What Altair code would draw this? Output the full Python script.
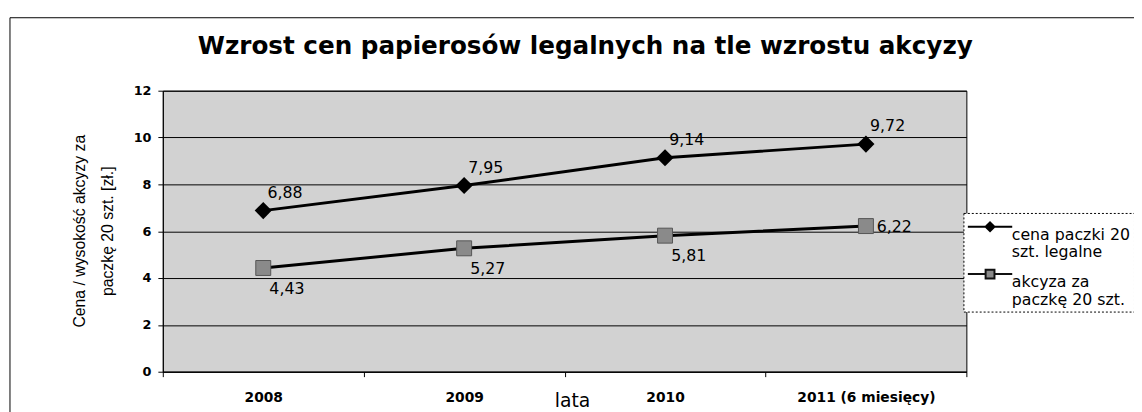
import altair as alt
import pandas as pd

years = ["2008", "2009", "2010", "2011 (6 miesięcy)"]
cena = [6.88, 7.95, 9.14, 9.72]
akcyza = [4.43, 5.27, 5.81, 6.22]
series_names = ["cena paczki 20\nszt. legalne", "akcyza za\npaczkę 20 szt."]

rows = []
for y, v in zip(years, cena):
    rows.append({"year": y, "series": series_names[0], "value": v})
for y, v in zip(years, akcyza):
    rows.append({"year": y, "series": series_names[1], "value": v})
df = pd.DataFrame(rows)

FONT = "DejaVu Sans"
NARROW = "'Liberation Sans Narrow', 'Liberation Sans'"

x_enc = alt.X(
    "year:N", sort=years, bandPosition=0.5,
    scale=alt.Scale(type="band", paddingInner=0, paddingOuter=0),
    axis=alt.Axis(title="lata", labelAngle=0, tickBand="extent", labelFontSize=14,
                  labelFontWeight="bold",
                  labelFont=FONT, labelColor="black", labelPadding=14, tickSize=5,
                  tickColor="black", domainColor="black", grid=False,
                  titleFontSize=19, titleFont=FONT, titleFontWeight="normal",
                  titleX=415, titleY=35, titleBaseline="alphabetic", titleColor="black"),
)
y_enc = alt.Y(
    "value:Q", scale=alt.Scale(domain=[0, 12]),
    axis=alt.Axis(values=[0, 2, 4, 6, 8, 10, 12], title=["Cena / wysokość akcyzy za", "paczkę 20 szt. [zł.]"],
                  labelFontSize=13, labelFontWeight="bold", labelFont=FONT, labelColor="black",
                  labelPadding=7,
                  tickSize=5, tickColor="black", domainColor="black",
                  gridColor="black", gridWidth=1, gridOpacity=1,
                  titleFontSize=16, titleFont=NARROW, titleFontWeight="normal", titleColor="black",
                  titleLineHeight=28, titleX=-84, titleY=142, titleAlign="center",
                  titleBaseline="middle", titleAngle=270),
)

base = alt.Chart(df).encode(x=x_enc, y=y_enc)

lines = base.mark_line(color="black", strokeWidth=3).encode(detail="series:N")

s1 = base.transform_filter(alt.datum.series == series_names[0])
s2 = base.transform_filter(alt.datum.series == series_names[1])

pts1 = s1.mark_point(shape="diamond", filled=True, color="black", size=300, opacity=1)
pts2 = s2.mark_square(size=230, fill="#8a8a8a", stroke="#555555", strokeWidth=1, opacity=1)

lab_expr = "replace(format(datum.value, '.2f'), '.', ',')"
txt_style = dict(fontSize=16, font=FONT, color="black")

lab1 = s1.transform_calculate(t=lab_expr).mark_text(dx=22, dy=-18, **txt_style).encode(text="t:N")

def s2_label(ys, dx, dy, align="center"):
    return (s2.transform_filter(alt.FieldOneOfPredicate(field="year", oneOf=ys))
            .transform_calculate(t=lab_expr)
            .mark_text(dx=dx, dy=dy, align=align, **txt_style).encode(text="t:N"))

lab2a = s2_label(years[:3], 24, 21)
lab2c = s2_label([years[3]], 11, 1, align="left")

path1 = "M-2.5,0H2.5M0,-0.5L0.5,0L0,0.5L-0.5,0Z"
path2 = "M-2.5,0H-0.5M0.5,0H2.5M-0.5,-0.5H0.5V0.5H-0.5Z"

leg = alt.Legend(
    orient="none", legendX=812, legendY=124, title=None,
    fillColor="white", strokeColor="black", padding=4,
    symbolSize=324, symbolOffset=13, labelFontSize=16, labelFont=FONT, labelColor="black",
    labelLimit=400, labelExpr="split(datum.label, '\\n')", labelOffset=12,
    rowPadding=4, labelBaseline="top",
    symbolStrokeColor="black", symbolStrokeWidth=2, symbolOpacity=1,
)

dummy = base.mark_point(filled=False, strokeWidth=2, opacity=0).encode(
    shape=alt.Shape("series:N", scale=alt.Scale(domain=series_names, range=[path1, path2]), legend=leg),
    fill=alt.Fill("series:N", scale=alt.Scale(domain=series_names, range=["black", "#8a8a8a"]), legend=leg),
    stroke=alt.Stroke("series:N", scale=alt.Scale(domain=series_names, range=["black", "#111111"]), legend=leg),
)

frame = alt.Chart(pd.DataFrame({"a": [0]})).mark_rect(
    fill="transparent", stroke="black", strokeWidth=1
).encode(x=alt.value(-155), x2=alt.value(1200), y=alt.value(-74), y2=alt.value(500))

chart = alt.layer(frame, lines, pts1, pts2, lab1, lab2a, lab2c, dummy).properties(
    width=815, height=285,
    title=alt.TitleParams(
        "Wzrost cen papierosów legalnych na tle wzrostu akcyzy",
        fontSize=25, font=FONT, fontWeight="bold", color="black",
        anchor="middle", dx=21, offset=-62, baseline="alphabetic",
    ),
    autosize=alt.AutoSizeParams(type="none"),
    padding={"left": 157, "top": 81, "right": 170, "bottom": 40},
    background="white",
).configure_view(
    fill="#d2d2d2", stroke="black", strokeWidth=1,
).configure_legend(strokeDash=[2, 2])

chart.save("out.html", embed_options={"renderer": "svg", "actions": False})
